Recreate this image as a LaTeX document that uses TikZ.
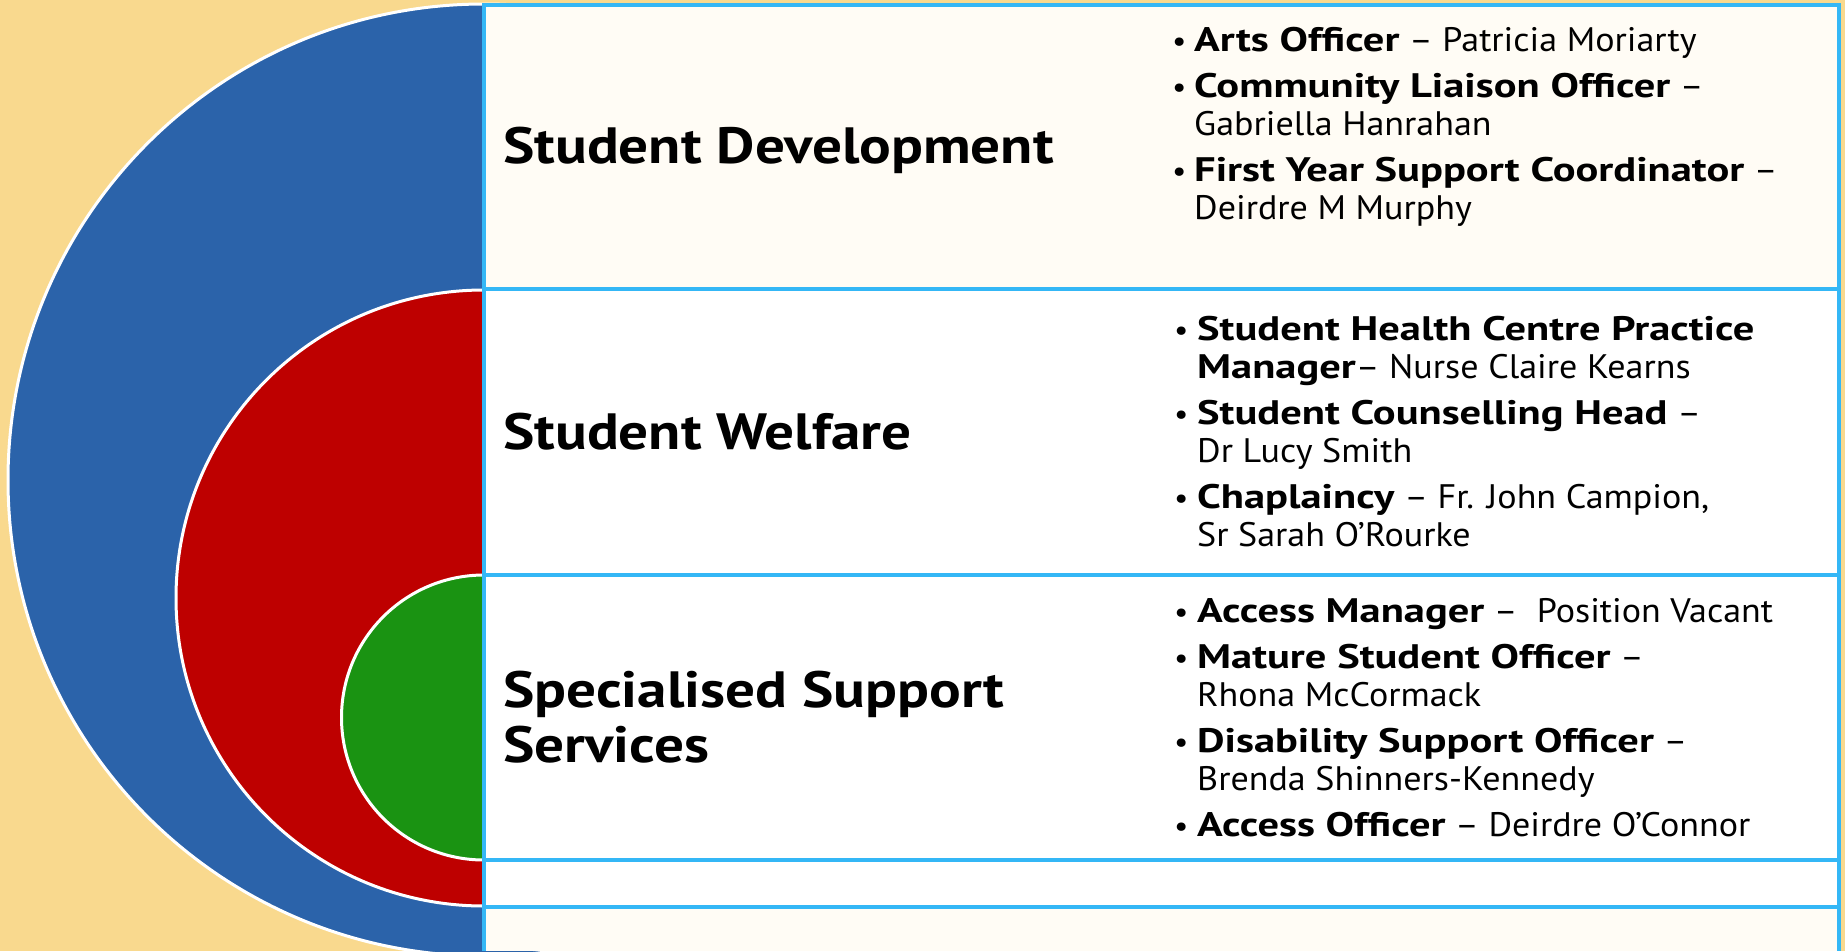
\documentclass[tikz,border=0pt]{standalone}
\usepackage{fontspec}
\setmainfont{PT Sans}[UprightFeatures={FakeStretch=1.06},BoldFeatures={FakeStretch=1.25}]
\newfontfamily\lblfont{PT Sans}[BoldFeatures={FakeStretch=1.16}]
\definecolor{bgc}{RGB}{249,217,142}
\definecolor{blueC}{RGB}{43,99,170}
\definecolor{redC}{RGB}{190,0,0}
\definecolor{greenC}{RGB}{26,147,18}
\definecolor{lineC}{RGB}{52,183,246}
\definecolor{creamC}{RGB}{255,252,245}
\begin{document}
\begin{tikzpicture}[x=1pt,y=-1pt,
  ring/.style={draw=white,line width=3pt},
  border/.style={draw=lineC,line width=4pt},
  lbl/.style={font=\lblfont\bfseries\fontsize{51}{57}\selectfont,anchor=base west,inner sep=0pt},
  itm/.style={font=\fontsize{34}{38}\selectfont,anchor=base west,inner sep=0pt},
  bul/.style={font=\fontsize{30}{38}\selectfont,anchor=base west,inner sep=0pt}]
\useasboundingbox (0,0) rectangle (1845,951);
\fill[bgc] (0,0) rectangle (1845,951);
% rings
\fill[blueC,ring] (484,480) circle[radius=476pt];
\fill[redC,ring] (484,598) circle[radius=308pt];
\fill[greenC,ring] (484,717.5) circle[radius=142.5pt];
% boxes
\fill[creamC] (484,5) rectangle (1839,289);
\fill[white] (484,289) rectangle (1839,907);
\fill[creamC] (484,907) rectangle (1839,951);
\draw[border] (484,5) -- (484,951);
\draw[border] (1839,5) -- (1839,951);
\draw[border] (482,5) -- (1841,5);
\draw[border] (484,289) -- (1839,289);
\draw[border] (484,575) -- (1839,575);
\draw[border] (484,860) -- (1839,860);
\draw[border] (484,907) -- (1839,907);
% left labels
\node[lbl] (sd) at (503,163) {Student Development};
\node[lbl] (sw) at (503,449) {Student Welfare};
\node[lbl] (ss1) at (503,707) {Specialised Support};
\node[lbl] (ss2) at (503,762) {Services};
% row 1
\node[bul] (b11) at (1172,51) {•};
\node[itm] (t11) at (1194,51) {\textbf{Arts Officer} – Patricia Moriarty};
\node[bul] (b12) at (1172,97) {•};
\node[itm] (t12) at (1194,97) {\textbf{Community Liaison Officer} –};
\node[itm] (t12b) at (1194,135) {Gabriella Hanrahan};
\node[bul] (b13) at (1172,181) {•};
\node[itm] (t13) at (1194,181) {\textbf{First Year Support Coordinator} –};
\node[itm] (t13b) at (1194,219) {Deirdre M Murphy};
% row 2
\node[bul] (b21) at (1174,340) {•};
\node[itm] (t21) at (1197,340) {\textbf{Student Health Centre Practice}};
\node[itm] (t21b) at (1197,378) {\textbf{Manager}– Nurse Claire Kearns};
\node[bul] (b22) at (1174,424) {•};
\node[itm] (t22) at (1197,424) {\textbf{Student Counselling Head} –};
\node[itm] (t22b) at (1197,462) {Dr Lucy Smith};
\node[bul] (b23) at (1174,508) {•};
\node[itm] (t23) at (1197,508) {\textbf{Chaplaincy} – Fr. John Campion,};
\node[itm] (t23b) at (1197,546) {Sr Sarah O’Rourke};
% row 3
\node[bul] (b31) at (1174,622) {•};
\node[itm] (t31) at (1197,622) {\textbf{Access Manager} –\ \ Position Vacant};
\node[bul] (b32) at (1174,668) {•};
\node[itm] (t32) at (1197,668) {\textbf{Mature Student Officer} –};
\node[itm] (t32b) at (1197,706) {Rhona McCormack};
\node[bul] (b33) at (1174,752) {•};
\node[itm] (t33) at (1197,752) {\textbf{Disability Support Officer} –};
\node[itm] (t33b) at (1197,790) {Brenda Shinners-Kennedy};
\node[bul] (b34) at (1174,836) {•};
\node[itm] (t34) at (1197,836) {\textbf{Access Officer} – Deirdre O’Connor};
\end{tikzpicture}
\end{document}
